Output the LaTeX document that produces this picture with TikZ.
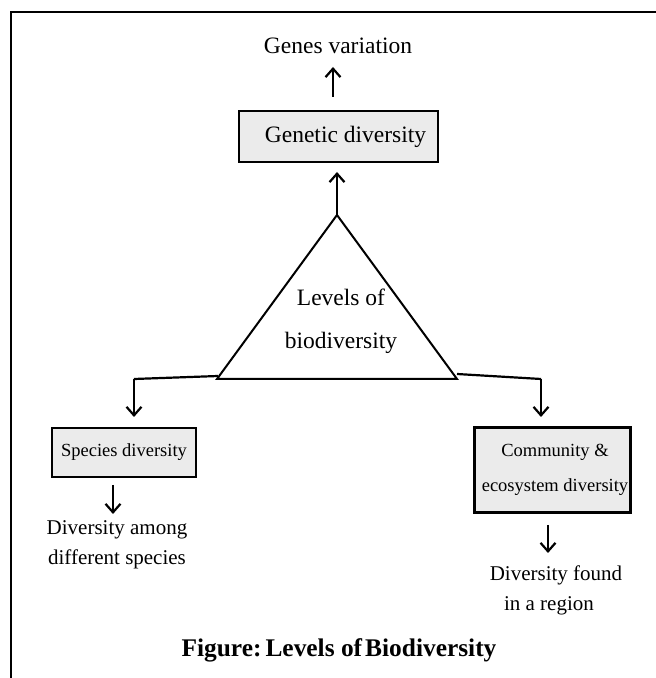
\documentclass[tikz,border=0pt]{standalone}
\usepackage{fontspec}
\setmainfont{Liberation Serif}
\usetikzlibrary{arrows.meta}
\definecolor{boxfill}{HTML}{EBEBEB}
\begin{document}
\begin{tikzpicture}[x=1pt,y=1pt,
  arr/.style={line width=2.2pt,-{Straight Barb[length=8.5pt,width=15pt,line width=2.2pt]}},
  conn/.style={line width=2.2pt},
  graybox/.style={draw,line width=1.6pt,fill=boxfill,inner sep=0pt},
  bigtxt/.style={font=\fontsize{23.5}{43}\selectfont,inner sep=0pt,align=center},
  smalltxt/.style={font=\fontsize{18.5}{35}\selectfont,align=center},
  midtxt/.style={font=\fontsize{21}{30}\selectfont,inner sep=0pt,align=center}]
\useasboundingbox (0,0) rectangle (656,678);
% frame
\draw[line width=2.5pt] (11,0) -- (11,666) -- (656,666);
% top
\node[bigtxt] (genes) at (338,632) {Genes variation};
\node[graybox,minimum width=199pt,minimum height=51pt,font=\fontsize{23.5}{28}\selectfont] (genetic) at (338.5,541.5) {\hspace{14pt}Genetic diversity};
% triangle
\coordinate (apex) at (337,463);
\coordinate (tl) at (217,299);
\coordinate (tr) at (457,299);
\draw[line width=2pt,line join=miter] (apex) -- (tl) -- (tr) -- cycle;
\node[bigtxt] (levels) at (341,356.5) {Levels of\\biodiversity};
% arrows up
\coordinate (a1s) at (333,581);
\coordinate (a1e) at (333,611);
\draw[arr] (a1s) -- (a1e);
\coordinate (a2e) at (337,506);
\draw[arr] (apex) -- (a2e);
% species
\node[graybox,minimum width=144pt,minimum height=49pt,font=\fontsize{18.5}{22}\selectfont] (species) at (124,225.5) {Species diversity};
\coordinate (lc) at (134,299);
\coordinate (lt) at (134,261);
\draw[conn] (218,302) -- (lc);
\draw[arr] (lc) -- (lt);
\coordinate (s1) at (113,193);
\coordinate (s2) at (113,164);
\draw[arr] (s1) -- (s2);
\node[midtxt] (among) at (117,133) {Diversity among\\different species};
% community
\node[draw,line width=3.5pt,fill=boxfill,minimum width=156pt,minimum height=85pt,inner sep=0pt] (comm) at (552.5,208) {};
\node[smalltxt,inner sep=0pt] (commtxt) at (555,208.5) {Community \&\\ecosystem diversity};
\coordinate (rc) at (541,299);
\coordinate (rt) at (541,261);
\draw[conn] (457,304) -- (rc);
\draw[arr] (rc) -- (rt);
\coordinate (c1) at (548,153);
\coordinate (c2) at (548,125);
\draw[arr] (c1) -- (c2);
\node[midtxt] (found) at (556,88) {Diversity found\\\hspace{-14pt}in a region};
% title
\node[font=\bfseries\fontsize{25.4}{30}\selectfont] (title) at (339,28) {Figure:\hspace{4pt}Levels of\hspace{3pt}Biodiversity};
\end{tikzpicture}
\end{document}
